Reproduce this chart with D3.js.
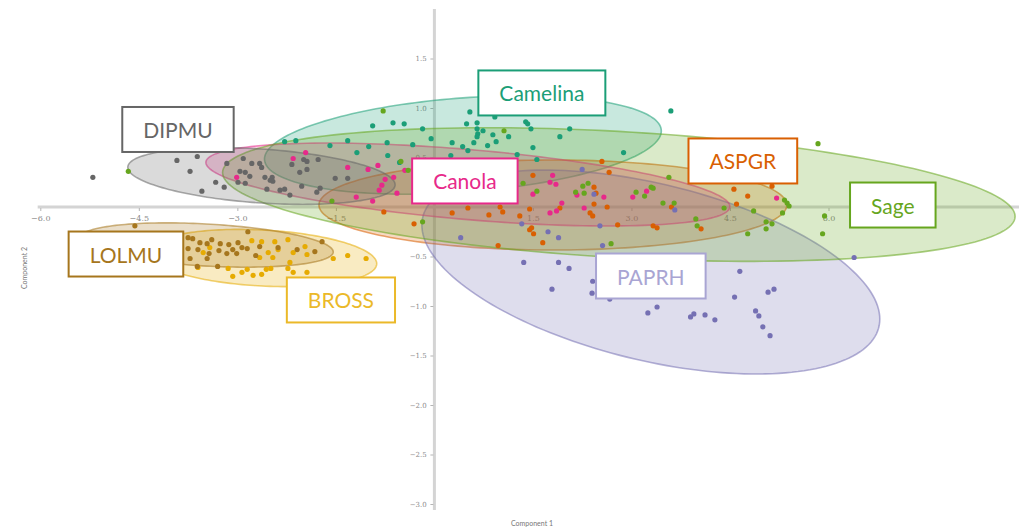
<!DOCTYPE html>
<html>
<head>
<meta charset="utf-8">
<script src="https://cdn.jsdelivr.net/npm/d3@7"></script>
<style>
  body { margin: 0; background: #fff; }
  svg { display: block; }
</style>
</head>
<body>
<svg id="chart" width="1021" height="530"></svg>
<script>
// ---- data -------------------------------------------------------------
const groups = ["Camelina", "ASPGR", "PAPRH", "Canola", "Sage", "BROSS", "LOLMU", "DIPMU"];
const colors = ["#1b9e77", "#d95f02", "#7570b3", "#e7298a", "#66a61e", "#e6ab02", "#a6761d", "#666666"];

const xTicks = [-6.0, -4.5, -3.0, -1.5, 1.5, 3.0, 4.5, 6.0, 7.5];
const yTicks = [1.5, 1.0, 0.5, -0.5, -1.0, -1.5, -2.0, -2.5, -3.0];

// group ellipses: centre, spread along each component, correlation
const ellipseCx  = [0.434, 1.804, 3.295, 0.510, 2.808, -2.626, -3.470, -2.633];
const ellipseCy  = [0.626, 0.020, -0.657, 0.227, 0.126, -0.515, -0.384, 0.313];
const ellipseSx  = [3.021, 3.562, 3.486, 3.989, 6.033, 1.748, 1.930, 2.035];
const ellipseSy  = [0.497, 0.455, 1.030, 0.419, 0.675, 0.289, 0.224, 0.287];
const ellipseRho = [0.286, 0.0, -0.461, -0.532, -0.328, -0.198, -0.311, -0.307];

// sample scores (Component 1, Component 2)
const camelina = [[-2.28,0.66],[-2.11,0.67],[-1.59,0.62],[-1.32,0.67],[-1.18,0.55],[-1.00,0.61],[-0.94,0.82],[-0.72,0.65],[-0.71,0.52],[-0.63,0.85],[-0.53,0.45],[-0.46,0.84],[-0.33,0.63],[-0.18,0.79],[-0.05,0.69],[0.25,0.52],[0.27,0.65],[0.43,0.61],[0.51,0.57],[0.49,0.84],[0.54,0.96],[0.60,0.65],[0.65,0.85],[0.65,0.79],[0.74,0.77],[0.66,0.74],[0.65,0.71],[0.89,0.73],[0.94,0.66],[0.81,0.62],[0.92,0.91],[1.13,0.71],[1.26,0.53],[1.39,0.86],[1.42,0.84],[1.47,0.79],[1.50,0.60],[1.56,0.48],[1.91,0.71],[2.06,0.79],[2.88,0.55],[3.60,0.97]];
const aspgr = [[-0.77,-0.05],[-0.31,-0.17],[0.27,-0.06],[0.51,-0.01],[0.83,-0.08],[1.00,0.00],[1.04,-0.05],[1.30,-0.09],[1.45,-0.02],[1.50,0.32],[1.45,-0.23],[1.51,-0.27],[1.48,-0.21],[1.65,-0.36],[0.97,-0.39],[1.91,-0.01],[2.37,-0.06],[2.41,-0.09],[2.43,0.03],[2.43,0.20],[2.46,0.14],[2.63,0.00],[2.79,-0.18],[3.33,-0.19],[3.39,-0.21],[3.61,0.00],[4.06,-0.22],[2.55,0.46],[2.66,0.35],[4.56,0.18],[4.77,0.11],[4.60,0.03],[5.14,0.21]];
const paprh = [[0.40,-0.31],[1.33,-0.17],[1.73,-0.25],[1.89,-0.31],[2.25,0.38],[2.43,0.13],[2.52,-0.19],[2.56,-0.39],[3.66,-0.03],[1.36,-0.56],[1.89,-0.56],[2.05,-0.62],[2.41,-0.75],[2.40,-0.87],[1.79,-0.83],[2.67,-0.93],[3.25,-1.07],[3.39,-1.01],[3.90,-1.11],[3.95,-1.08],[4.12,-1.09],[4.27,-1.14],[4.65,-0.65],[4.57,-0.91],[5.08,-0.86],[5.17,-0.83],[4.89,-1.05],[4.94,-1.10],[5.00,-1.21],[5.11,-1.30],[6.39,-0.51]];
const canola = [[-3.01,0.30],[-2.15,0.49],[-1.96,0.55],[-1.32,0.40],[-1.01,0.38],[-0.86,0.42],[-0.75,0.28],[-0.62,0.30],[-0.80,0.22],[-0.84,0.17],[-1.19,0.10],[-0.94,0.06],[-0.57,0.14],[-0.45,0.37],[1.80,0.32],[1.76,0.25],[1.85,0.23],[1.50,0.13],[1.94,0.04],[2.17,0.12],[2.58,0.10],[2.28,-0.01],[1.86,-0.04],[1.76,-0.06],[3.02,0.10],[3.23,0.16],[5.21,0.09]];
const sage = [[-4.66,0.36],[-1.56,0.06],[-0.78,0.97],[-0.51,0.46],[-0.40,0.37],[-0.18,-0.15],[1.06,0.77],[1.35,0.24],[1.56,0.16],[2.15,0.15],[2.26,0.21],[2.34,0.24],[2.28,0.14],[2.69,-0.37],[3.07,0.15],[3.20,0.11],[3.30,0.20],[3.33,0.19],[3.48,0.04],[3.65,0.04],[3.57,0.30],[4.10,0.46],[3.98,-0.12],[4.00,-0.19],[4.41,-0.01],[4.77,-0.27],[4.86,-0.04],[5.05,-0.15],[5.14,-0.17],[5.05,-0.22],[5.30,-0.06],[5.33,0.07],[5.37,0.04],[5.40,0.01],[5.84,0.64],[5.94,-0.09],[5.91,-0.27]];
const bross = [[-2.78,-0.34],[-2.63,-0.35],[-2.43,-0.35],[-2.23,-0.33],[-2.38,-0.43],[-2.53,-0.46],[-2.66,-0.51],[-2.46,-0.51],[-2.15,-0.46],[-1.97,-0.40],[-2.20,-0.56],[-2.23,-0.62],[-2.49,-0.62],[-2.56,-0.63],[-2.85,-0.63],[-2.93,-0.66],[-3.07,-0.70],[-2.76,-0.69],[-2.63,-0.68],[-1.94,-0.66],[-1.94,-0.48],[-1.54,-0.52],[-1.32,-0.49],[-1.04,-0.52],[-2.15,-0.66],[-3.42,-0.41],[-3.52,-0.46],[-3.60,-0.61],[-3.14,-0.62]];
const lolmu = [[-4.56,-0.19],[-2.84,-0.25],[-3.75,-0.31],[-3.68,-0.32],[-3.57,-0.36],[-3.39,-0.33],[-3.46,-0.37],[-3.26,-0.37],[-3.13,-0.38],[-2.99,-0.36],[-2.93,-0.41],[-2.85,-0.42],[-3.07,-0.43],[-3.75,-0.42],[-3.60,-0.43],[-3.43,-0.47],[-3.28,-0.44],[-3.16,-0.47],[-2.66,-0.40],[-2.38,-0.41],[-2.09,-0.43],[-1.82,-0.45],[-1.71,-0.35],[-3.72,-0.52],[-3.46,-0.52],[-3.30,-0.60],[-3.61,-0.60],[-3.01,-0.47],[-2.72,-0.49]];
const dipmu = [[-5.20,0.30],[-3.92,0.47],[-3.61,0.51],[-3.72,0.36],[-3.54,0.16],[-3.33,0.25],[-3.20,0.20],[-3.16,0.44],[-2.91,0.49],[-2.78,0.44],[-2.96,0.36],[-2.88,0.35],[-2.81,0.31],[-2.66,0.44],[-2.63,0.40],[-2.58,0.30],[-2.47,0.30],[-2.50,0.27],[-2.46,0.26],[-2.88,0.24],[-2.55,0.18],[-2.35,0.17],[-2.28,0.18],[-2.20,0.12],[-2.02,0.21],[-2.17,0.43],[-1.99,0.48],[-1.94,0.46],[-2.05,0.35],[-1.94,0.38],[-1.77,0.48],[-1.79,0.15],[-1.74,0.19],[-1.51,0.29],[-1.32,0.29],[-2.99,0.25]];
const scores = [camelina, aspgr, paprh, canola, sage, bross, lolmu, dipmu];

// label anchors (Component 1, Component 2)
const labelX = [1.636, 4.696, 3.295, 0.464, 6.979, -1.423, -4.696, -3.904];
const labelY = [1.152, 0.465, -0.697, 0.263, 0.020, -0.939, -0.475, 0.783];
const labelColors = ["#1b9e77", "#d95f02", "#a9a5d3", "#e7298a", "#66a61e", "#ebb929", "#a6761d", "#666666"];

// ---- layout -----------------------------------------------------------
const svg = d3.select("#chart");
const x = d3.scaleLinear().domain([-6, 6]).range([40.3, 828.5]);
const y = d3.scaleLinear().domain([-3, 1.5]).range([504, 58.5]);

// axes cross at the origin
const axisColor = "#d4d4d4";
const gAxes = svg.append("g");

gAxes.append("line")
  .attr("x1", x(-6.04)).attr("x2", x(8.9))
  .attr("y1", y(0)).attr("y2", y(0))
  .attr("stroke", axisColor).attr("stroke-width", 3);
gAxes.append("line")
  .attr("x1", x(0)).attr("x2", x(0))
  .attr("y1", y(2.0)).attr("y2", y(-3.06))
  .attr("stroke", axisColor).attr("stroke-width", 3);

const xAxis = d3.axisBottom(x).tickValues(xTicks).tickSize(3).tickFormat(d3.format(".1f"));
const gx = gAxes.append("g").attr("transform", `translate(0,${y(0) + 1})`).call(xAxis);
gx.select(".domain").remove();
gx.selectAll(".tick line").attr("stroke", "#b5b5b5");
gx.selectAll(".tick text").attr("fill", "#8a8a8a").attr("font-size", 8)
  .attr("font-family", "DejaVu Serif, serif").attr("dy", "0.9em");

const yAxis = d3.axisLeft(y).tickValues(yTicks).tickSize(3).tickFormat(d3.format(".1f"));
const gy = gAxes.append("g").attr("transform", `translate(${x(0) - 1},0)`).call(yAxis);
gy.select(".domain").remove();
gy.selectAll(".tick line").attr("stroke", "#b5b5b5");
gy.selectAll(".tick text").attr("fill", "#8a8a8a").attr("font-size", 7)
  .attr("font-family", "DejaVu Serif, serif").attr("dx", "-0.1em");

// axis titles
svg.append("text")
  .attr("x", 532).attr("y", 526)
  .attr("text-anchor", "middle")
  .attr("font-family", "Lato, sans-serif").attr("font-size", 7)
  .attr("fill", "#777").text("Component 1");
svg.append("text")
  .attr("transform", "translate(27,268) rotate(-90)")
  .attr("text-anchor", "middle")
  .attr("font-family", "Lato, sans-serif").attr("font-size", 7)
  .attr("fill", "#777").text("Component 2");

// ---- ellipses ---------------------------------------------------------
const steps = d3.range(0, 2 * Math.PI, Math.PI / 90);
function ellipsePoints(i) {
  const sx = ellipseSx[i], sy = ellipseSy[i], r = ellipseRho[i];
  const q = Math.sqrt(1 - r * r);
  return steps.map(t => [
    ellipseCx[i] + sx * Math.cos(t),
    ellipseCy[i] + sy * (r * Math.cos(t) + q * Math.sin(t))
  ]);
}
const ellLine = d3.line().x(d => x(d[0])).y(d => y(d[1])).curve(d3.curveLinearClosed);

svg.append("g").selectAll("path")
  .data(groups)
  .join("path")
  .attr("d", (g, i) => ellLine(ellipsePoints(i)))
  .attr("fill", (g, i) => colors[i])
  .attr("fill-opacity", 0.24)
  .attr("stroke", (g, i) => colors[i])
  .attr("stroke-opacity", 0.55)
  .attr("stroke-width", 1.6);

// ---- points -----------------------------------------------------------
const gPts = svg.append("g");
groups.forEach((g, i) => {
  gPts.append("g").selectAll("circle")
    .data(scores[i])
    .join("circle")
    .attr("cx", d => x(d[0]))
    .attr("cy", d => y(d[1]))
    .attr("r", 2.6)
    .attr("fill", colors[i]);
});

// ---- group labels -----------------------------------------------------
const gLab = svg.append("g");
groups.forEach((g, i) => {
  const cx = x(labelX[i]), cy = y(labelY[i]);
  const grp = gLab.append("g");
  const rect = grp.append("rect");
  const txt = grp.append("text")
    .attr("x", cx).attr("y", cy)
    .attr("text-anchor", "middle")
    .attr("dominant-baseline", "central")
    .attr("font-family", "Lato, 'Open Sans', sans-serif")
    .attr("font-size", 21)
    .attr("fill", labelColors[i])
    .text(g);
  const w = txt.node().getComputedTextLength() + 42;
  const h = 45;
  rect.attr("x", cx - w / 2).attr("y", cy - h / 2)
    .attr("width", w).attr("height", h)
    .attr("fill", "#fff")
    .attr("stroke", labelColors[i])
    .attr("stroke-width", 2);
});
</script>
</body>
</html>
